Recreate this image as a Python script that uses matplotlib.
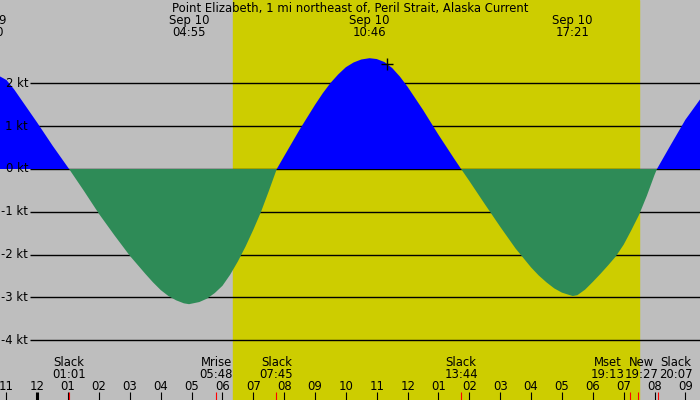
import matplotlib
matplotlib.use('Agg')
import matplotlib.pyplot as plt

title = 'Point Elizabeth, 1 mi northeast of, Peril Strait, Alaska Current'

# hours after midnight Sep 10 and current speed in knots
hours = [-1.25, -1.0, -0.75, -0.5, -0.25, 0.0, 0.5, 1.03,
         1.5, 2.0, 2.5, 3.0, 3.5, 3.75, 4.0, 4.25, 4.5, 4.75, 4.917, 5.25, 5.5, 5.75,
         6.0, 6.25, 6.5, 6.75, 7.0, 7.25, 7.5, 7.76,
         8.0, 8.5, 9.0, 9.25, 9.5, 9.75, 10.0, 10.25, 10.5, 10.767, 11.0, 11.25, 11.5, 11.75,
         12.0, 12.5, 13.0, 13.5, 13.733,
         14.0, 14.5, 15.0, 15.5, 15.75, 16.0, 16.25, 16.5, 16.75, 17.0, 17.35, 17.5, 17.75,
         18.0, 18.25, 18.5, 18.75, 19.0, 19.25, 19.5, 19.75, 20.0, 20.08,
         20.5, 21.0, 21.5]
speed = [2.18, 2.08, 1.86, 1.60, 1.34, 1.08, 0.54, 0.0,
         -0.50, -1.05, -1.55, -2.03, -2.45, -2.65, -2.83, -2.97, -3.07, -3.14, -3.16, -3.11, -3.03, -2.90,
         -2.73, -2.47, -2.16, -1.81, -1.42, -1.00, -0.52, 0.0,
         0.30, 0.92, 1.50, 1.77, 2.01, 2.21, 2.38, 2.49, 2.56, 2.59, 2.57, 2.50, 2.36, 2.16,
         1.92, 1.38, 0.80, 0.25, 0.0,
         -0.28, -0.82, -1.35, -1.86, -2.08, -2.30, -2.49, -2.65, -2.79, -2.89, -2.97, -2.95, -2.82,
         -2.64, -2.45, -2.25, -2.04, -1.77, -1.43, -1.07, -0.63, -0.14, 0.0,
         0.53, 1.15, 1.65]

peak_hours = [-1.646, 4.917, 10.767, 17.35]
peak_dates = ['Sep 09', 'Sep 10', 'Sep 10', 'Sep 10']
peak_times = ['22:20', '04:55', '10:46', '17:21']

event_hours = [1.017, 5.8, 7.75, 13.733, 19.217, 19.45, 20.117]
event_names = ['Slack', 'Mrise', 'Slack', 'Slack', 'Mset', 'New', 'Slack']
event_times = ['01:01', '05:48', '07:45', '13:44', '19:13', '19:27', '20:07']
label_shift = [0, 0, 0, 0, -23, 4, 18]   # pixels, so the labels don't overlap

sunrise, sunset = 6.35, 19.5
now_hour, now_speed = 11.32, 2.46
kt_levels = [2, 1, 0, -1, -2, -3, -4]
tick_hours = list(range(-1, 22))

pxh = 30.86   # pixels per hour
x0 = 37.3     # pixel of midnight

fig = plt.figure(figsize=(7, 4), dpi=100)
ax = fig.add_axes([0, 0, 1, 1])
ax.set_facecolor('#bebebe')
ax.set_xlim(-x0 / pxh, (700 - x0) / pxh)
ax.set_ylim(-231 / 42.78, 169 / 42.78)
for s in ax.spines.values():
    s.set_visible(False)
ax.set_xticks([])
ax.set_yticks([])

ax.axvspan(sunrise, sunset, color='#cdcd00', zorder=0)

yt = ax.get_yaxis_transform()
xt = ax.get_xaxis_transform()
fs = 8.4

ax.hlines(kt_levels, 30 / 700, 1, transform=yt, color='black', lw=1, zorder=1)
for v in kt_levels:
    ax.text(28 / 700, v, f'{v} kt', transform=yt, ha='right', va='center', fontsize=fs, zorder=3)

ax.fill_between(hours, speed, 0, where=[s >= 0 for s in speed], interpolate=True,
                color='#0000ff', lw=0, zorder=2)
ax.fill_between(hours, speed, 0, where=[s <= 0 for s in speed], interpolate=True,
                color='#2e8b57', lw=0, zorder=2)
ax.plot([now_hour], [now_speed], marker='+', color='black', ms=8, mew=1, zorder=4)

# top labels
ax.text(0.5, 1 - 11.7 / 400, title, transform=ax.transAxes, ha='center', va='baseline', fontsize=fs)
for h, d, t in zip(peak_hours, peak_dates, peak_times):
    ax.text(h, 1 - 24 / 400, d, transform=xt, ha='center', va='baseline', fontsize=fs)
    ax.text(h, 1 - 36 / 400, t, transform=xt, ha='center', va='baseline', fontsize=fs)

# bottom hour axis
for h in tick_hours:
    ax.text(h, 1 - 390 / 400, f'{(h % 12) or 12:02d}', transform=xt, ha='center', va='baseline', fontsize=fs)
    lw = 2.2 if h == 0 else 0.8
    ax.vlines(h, 0, 8.5 / 400, transform=xt, color='black', lw=lw)
ax.vlines(event_hours, 0, 8.5 / 400, transform=xt, color='red', lw=0.8)
for h, n, t, dx in zip(event_hours, event_names, event_times, label_shift):
    ax.text(h + dx / pxh, 1 - 366 / 400, n, transform=xt, ha='center', va='baseline', fontsize=fs)
    ax.text(h + dx / pxh, 1 - 378 / 400, t, transform=xt, ha='center', va='baseline', fontsize=fs)

fig.savefig('out.png', dpi=100)
